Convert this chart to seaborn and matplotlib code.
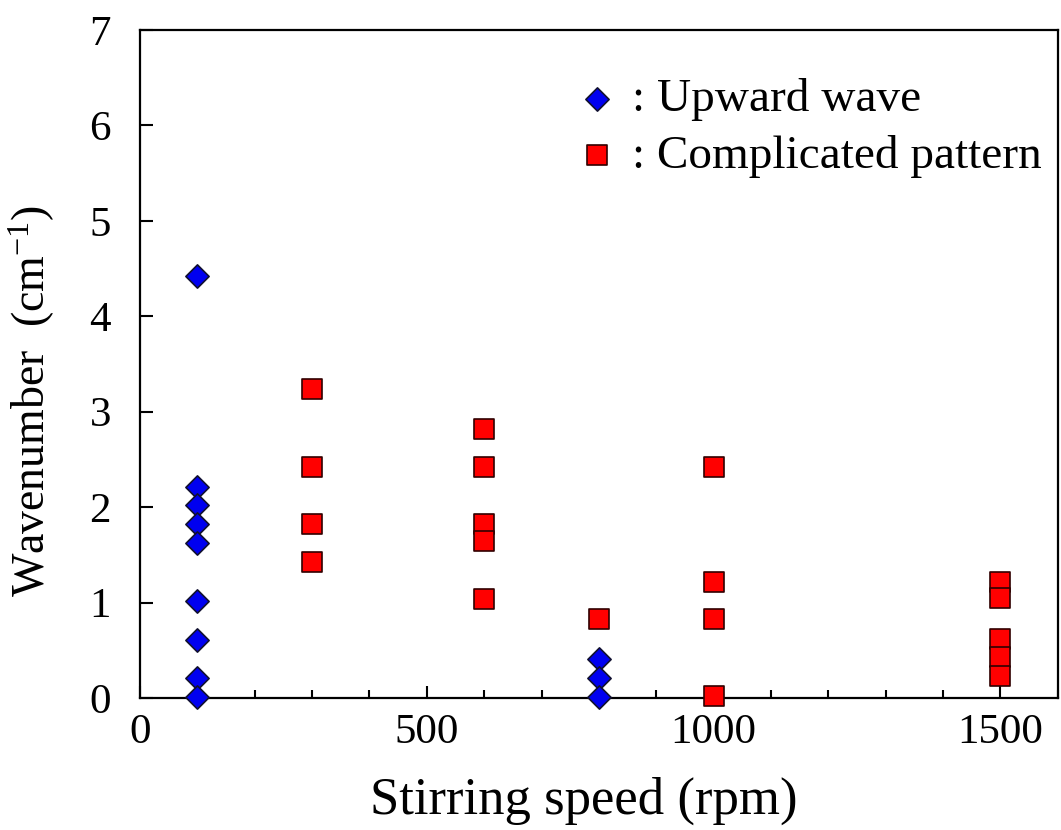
import matplotlib
matplotlib.use("Agg")
import matplotlib.pyplot as plt
from matplotlib.ticker import MultipleLocator
import seaborn as sns
import pandas as pd

# Upward wave observations
upward_speed = [100, 100, 100, 100, 100, 100, 100, 100, 100, 800, 800, 800]
upward_k = [4.42, 2.21, 2.02, 1.82, 1.62, 1.02, 0.61, 0.21, 0.01, 0.41, 0.21, 0.01]

# Complicated pattern observations
complex_speed = [300, 300, 300, 300,
                 600, 600, 600, 600, 600,
                 800,
                 1000, 1000, 1000, 1000,
                 1500, 1500, 1500, 1500, 1500]
complex_k = [3.24, 2.42, 1.82, 1.43,
             2.82, 2.42, 1.82, 1.64, 1.04,
             0.83,
             2.42, 1.22, 0.83, 0.02,
             1.22, 1.05, 0.62, 0.43, 0.23]

x_ticks = [0, 500, 1000, 1500]
y_ticks = [0, 1, 2, 3, 4, 5, 6, 7]

sns.set_theme(style="ticks")
plt.rcParams["font.family"] = ["Liberation Serif", "DejaVu Serif"]
plt.rcParams["mathtext.fontset"] = "custom"
plt.rcParams["mathtext.rm"] = "Liberation Serif"
plt.rcParams["mathtext.it"] = "Liberation Serif:italic"
plt.rcParams["text.color"] = "black"
plt.rcParams["axes.labelcolor"] = "black"

df_up = pd.DataFrame({"speed": upward_speed, "k": upward_k})
df_cx = pd.DataFrame({"speed": complex_speed, "k": complex_k})

fig = plt.figure(figsize=(10.61, 8.30), dpi=100)
ax = fig.add_axes([0.132, 0.159, 0.865, 0.805])

sns.scatterplot(data=df_up, x="speed", y="k", ax=ax, marker="D", s=140,
                color="#0000F0", edgecolor="#101030", linewidth=1.2,
                label=": Upward wave", zorder=3, clip_on=False)
sns.scatterplot(data=df_cx, x="speed", y="k", ax=ax, marker="s", s=200,
                color="#FF0000", edgecolor="#300000", linewidth=1.2,
                label=": Complicated pattern", zorder=3, clip_on=False)

ax.set_xlim(0, 1600)
ax.set_ylim(0, 7)
ax.set_xticks(x_ticks)
ax.set_xticklabels([str(v) for v in x_ticks])
ax.xaxis.set_minor_locator(MultipleLocator(100))
ax.set_yticks(y_ticks)
ax.set_yticklabels([str(v) for v in y_ticks])

ax.tick_params(axis="both", which="major", direction="in", length=9, width=1.5,
               labelsize=31, color="black", labelcolor="black")
ax.tick_params(axis="x", which="major", pad=11)
ax.tick_params(axis="y", which="major", pad=21)
ax.tick_params(axis="x", which="minor", direction="in", length=6, width=1.5,
               color="black")
for side in ["left", "right", "top", "bottom"]:
    ax.spines[side].set_visible(True)
    ax.spines[side].set_linewidth(1.6)
    ax.spines[side].set_color("black")

ax.set_xlabel("Stirring speed (rpm)", fontsize=38)
ax.set_ylabel(r"Wavenumber  (cm$^{\mathregular{-1}}$)", fontsize=33)
ax.xaxis.set_label_coords(0.484, -0.118)
ax.yaxis.set_label_coords(-0.09, 0.445)

leg = ax.legend(loc="upper left", bbox_to_anchor=(0.500, 0.957),
                bbox_transform=fig.transFigure, frameon=False,
                fontsize=34, handlelength=1.0, handletextpad=0.26,
                labelspacing=0.28, borderpad=0.4, scatterpoints=1)

fig.savefig("out.png", dpi=100)
